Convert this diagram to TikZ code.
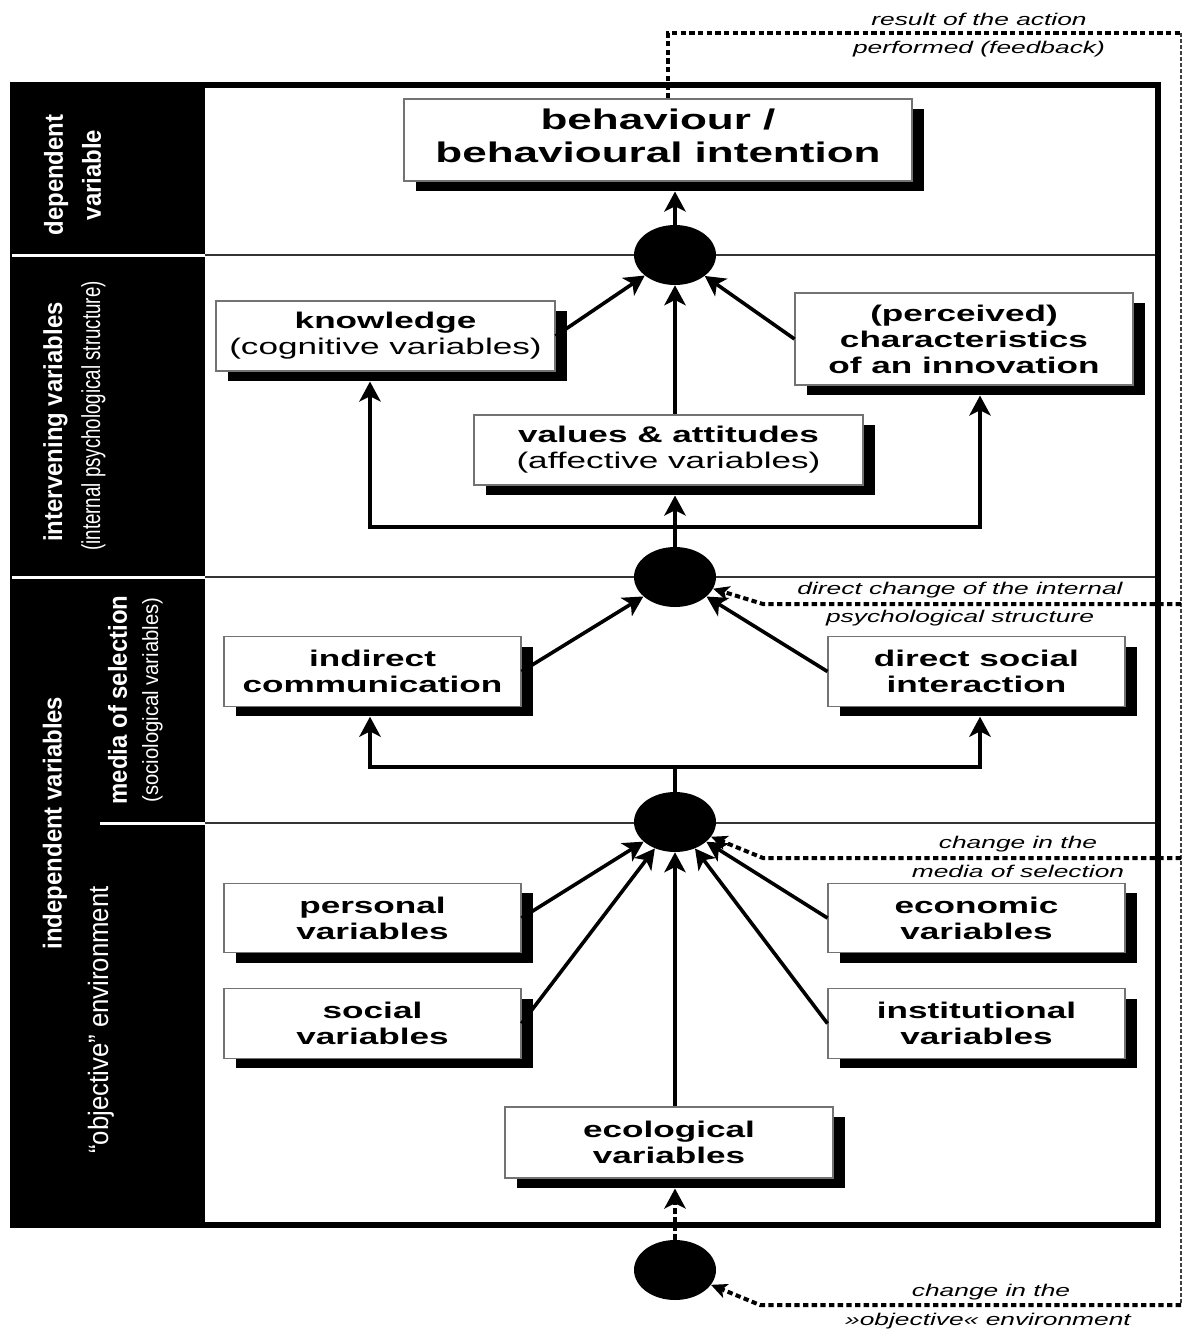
\documentclass[tikz,border=0pt]{standalone}
\usepackage{fontspec}
\setmainfont[FakeStretch=1.55]{Liberation Sans}
\newfontfamily\bandfont[FakeStretch=0.92]{Liberation Sans}
\newfontfamily\bandthin[FakeStretch=0.72]{Liberation Sans}
\usepackage{tikz}
\usetikzlibrary{shapes.geometric, arrows.meta, shadows}
\tikzstyle{varbox} = [rectangle, draw=black!55, line width=0.8pt, fill=white, text centered, align=center, inner sep=0pt, font=\fontsize{17pt}{19.5pt}\selectfont, drop shadow={shadow xshift=9pt, shadow yshift=-7.5pt, opacity=1, fill=black}]
\tikzstyle{smallbox} = [varbox, minimum width=222.75pt, minimum height=52pt]
\tikzstyle{blob} = [ellipse, fill=black, minimum width=61.5pt, minimum height=45pt, inner sep=0pt]
\tikzstyle{band} = [rotate=90, text=white, align=center, inner sep=0pt]
\tikzstyle{bandbold} = [band, font=\fontsize{19.5pt}{28.5pt}\bandfont\bfseries]
\tikzstyle{note} = [font=\fontsize{12.75pt}{15pt}\selectfont\itshape, inner sep=0pt, anchor=base]
\tikzstyle{rowline} = [black!80, line width=1.1pt]
\tikzstyle{link} = [line width=2.7pt]
\tikzstyle{arrow} = [link, ->, >={Stealth[length=15pt, width=16pt, inset=4pt]}]
\tikzstyle{feedback} = [line width=3pt, dash pattern=on 4pt off 2.5pt]
\tikzstyle{fbarrow} = [feedback, ->, >={Stealth[length=12pt, width=11pt, inset=3pt]}]
\tikzstyle{backline} = [black!75, line width=1.1pt, dash pattern=on 3pt off 1.5pt]
\begin{document}
\begin{tikzpicture}[x=0.75pt, y=-0.75pt]
		\useasboundingbox (0,0) rectangle (1182,1329);
		% left band and frame
		\fill[black] (10,82) rectangle (205,1228);
		\draw[line width=4.5pt] (13,85) rectangle (1158,1225);
		\draw[white, line width=2.25pt] (12,255) -- (205,255);
		\draw[white, line width=2.25pt] (12,577) -- (205,577);
		\draw[white, line width=2.25pt] (100,823) -- (205,823);
		\draw[rowline] (205,255) -- (1155,255);
		\draw[rowline] (205,577) -- (1155,577);
		\draw[rowline] (205,823) -- (1155,823);

		\node (depvar) [bandbold] at (72.5,175) {dependent\\variable};
		\node (intvar) [bandbold] at (55.5,422) {intervening variables};
		\node (intsub) [band, font=\fontsize{19.5pt}{24pt}\bandthin] at (93.5,416) {(internal psychological structure)};
		\node (indvar) [bandbold] at (55,823) {independent variables};
		\node (medvar) [bandbold] at (117.5,700) {media of selection};
		\node (medsub) [band, font=\fontsize{16.5pt}{20pt}\bandfont] at (152.5,700) {(sociological variables)};
		\node (objvar) [band, font=\fontsize{21pt}{24pt}\bandfont] at (101,1020) {“objective” environment};

		\node (beh) [varbox, minimum width=381pt, minimum height=61.5pt, text depth=6pt, font=\fontsize{21.3pt}{24.5pt}\selectfont\bfseries] at (658,140) {behaviour /\\behavioural intention};
		\node (know) [varbox, minimum width=254.25pt, minimum height=52.5pt] at (385.5,336) {\textbf{knowledge}\\(cognitive variables)};
		\node (char) [varbox, minimum width=253.5pt, minimum height=69pt, font=\fontsize{17pt}{19.5pt}\selectfont\bfseries] at (964,339) {(perceived)\\characteristics\\of an innovation};
		\node (vals) [varbox, minimum width=291.75pt, minimum height=52.5pt] at (668.5,450) {\textbf{values \& attitudes}\\(affective variables)};
		\node (indir) [smallbox, font=\fontsize{17pt}{19.5pt}\selectfont\bfseries] at (372.5,671.5) {indirect\\communication};
		\node (direct) [smallbox, font=\fontsize{17pt}{19.5pt}\selectfont\bfseries] at (976.5,671.5) {direct social\\interaction};
		\node (pers) [smallbox, font=\fontsize{17pt}{19.5pt}\selectfont\bfseries] at (372.5,918) {personal\\variables};
		\node (soc) [smallbox, font=\fontsize{17pt}{19.5pt}\selectfont\bfseries] at (372.5,1023.5) {social\\variables};
		\node (econ) [smallbox, font=\fontsize{17pt}{19.5pt}\selectfont\bfseries] at (976.5,918) {economic\\variables};
		\node (inst) [smallbox, font=\fontsize{17pt}{19.5pt}\selectfont\bfseries] at (976.5,1023.5) {institutional\\variables};
		\node (eco) [varbox, minimum width=246pt, minimum height=53.25pt, font=\fontsize{17pt}{19.5pt}\selectfont\bfseries] at (669,1142.5) {ecological\\variables};

		\node (merge1) [blob] at (675,255) {};
		\node (merge2) [blob] at (675,577) {};
		\node (merge3) [blob] at (675,822) {};
		\node (source) [blob] at (675,1270) {};

		\coordinate (knowfoot) at (370,527);
		\coordinate (charfoot) at (980,527);
		\coordinate (indfoot) at (370,767);
		\coordinate (dirfoot) at (980,767);

		\draw [arrow, shorten >=7.5pt](merge1) -- (beh.south -| merge1);
		\draw [arrow](know.east) -- (merge1);
		\draw [arrow](char.west) -- (merge1);
		\draw [arrow](vals.north -| merge1) -- (merge1);
		\draw [arrow, shorten >=7.5pt](merge2) -- (vals.south -| merge2);
		\draw [arrow, <->, shorten <=7.5pt, shorten >=7.5pt](knowfoot |- know.south) -- (knowfoot) -- (charfoot) -- (charfoot |- char.south);
		\draw [arrow](indir.east) -- (merge2);
		\draw [arrow](direct.west) -- (merge2);
		\draw [link](merge3) -- (merge3 |- indfoot);
		\draw [arrow, <->, shorten <=7.5pt, shorten >=7.5pt](indfoot |- indir.south) -- (indfoot) -- (dirfoot) -- (dirfoot |- direct.south);
		\draw [arrow](pers.east) -- (merge3);
		\draw [arrow](soc.east) -- (merge3);
		\draw [arrow](econ.west) -- (merge3);
		\draw [arrow](inst.west) -- (merge3);
		\draw [arrow](eco.north -| merge3) -- (merge3);
		\draw [feedback, arrow, shorten >=7.5pt](source) -- (eco.south -| source);

		% feedback loop
		\coordinate (fbtop) at (668,33);
		\coordinate (fbcorner) at (1181,33);
		\coordinate (tap1) at (1181,604);
		\coordinate (bend1) at (763,604);
		\coordinate (tap2) at (1181,858);
		\coordinate (bend2) at (763,858);
		\coordinate (tap3) at (1181,1305);
		\coordinate (bend3) at (760,1305);
		\draw [feedback](fbtop |- beh.north) -- (fbtop) -- (fbcorner);
		\draw [backline](fbcorner) -- (tap3);
		\draw [fbarrow](tap1) -- (bend1) -- (merge2);
		\draw [fbarrow](tap2) -- (bend2) -- (merge3);
		\draw [fbarrow](tap3) -- (bend3) -- (source);

		\node (res) [note] at (979,25) {result of the action};
		\node (perf) [note] at (979,53) {performed (feedback)};
		\node (dch1) [note] at (960,594) {direct change of the internal};
		\node (dch2) [note] at (960,622) {psychological structure};
		\node (med1) [note] at (1018,848) {change in the};
		\node (med2) [note] at (1018,877) {media of selection};
		\node (obj1) [note] at (991,1296) {change in the};
		\node (obj2) [note] at (988,1325) {»objective« environment};
	\end{tikzpicture}
\end{document}
